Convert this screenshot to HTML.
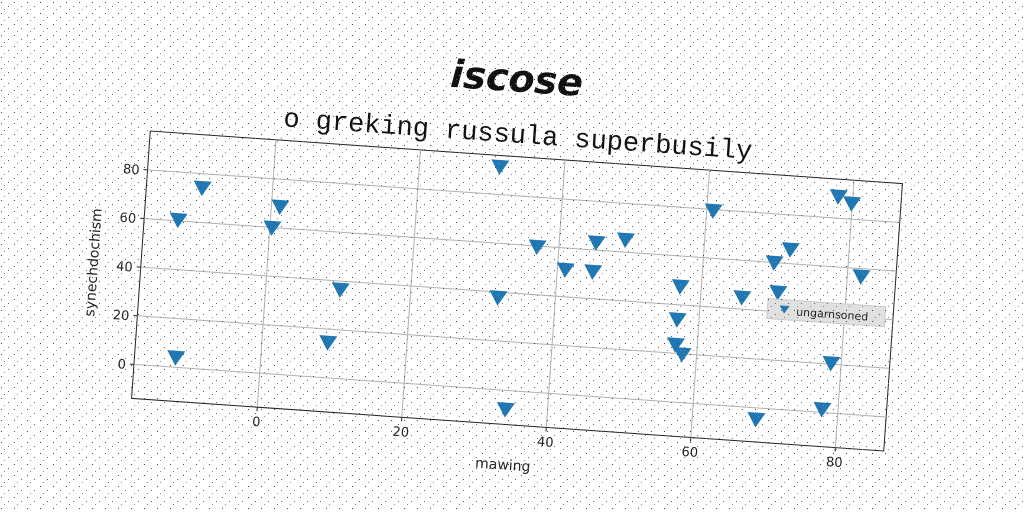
<!DOCTYPE html>
<html><head><meta charset="utf-8"><style>
html,body{margin:0;padding:0;background:#fff;width:1024px;height:512px;overflow:hidden}
text{font-family:"DejaVu Sans","Liberation Sans",sans-serif}
</style></head><body>
<svg id="chart" width="1024" height="512" viewBox="0 0 1024 512" xmlns="http://www.w3.org/2000/svg">
<defs><pattern id="noise" width="13" height="11" patternUnits="userSpaceOnUse">
<rect x="1" y="2" width="1" height="1" fill="#444"/><rect x="8" y="6" width="1" height="1" fill="#666"/><rect x="4" y="9" width="1" height="1" fill="#888"/></pattern></defs>
<g id="rot" transform="rotate(4 517 291)">
<text x="502" y="92" text-anchor="middle" font-size="38" font-weight="bold" font-style="italic" fill="#111">iscose</text>
<text x="507" y="143" text-anchor="middle" font-size="27" style="font-family:'Liberation Mono',monospace" fill="#111">o greking russula superbusily</text>
<rect x="140" y="157" width="754" height="268" fill="#fff" stroke="#222" stroke-width="1"/>
<g id="grid"></g><g id="marks"></g>
<text x="515" y="470" text-anchor="middle" font-size="14" fill="#222">mawing</text>
<text x="97" y="292" text-anchor="middle" font-size="14" fill="#222" transform="rotate(-90 97 292)">synechdochism</text>
<g>
<rect x="768" y="281" width="118" height="20" fill="#e0e0e0" stroke="#ccc"/>
<path d="M780 287 L790 287 L785 295 Z" fill="#1f77b4"/>
<text x="797" y="296" font-size="11" fill="#222">ungarnsoned</text>
</g>
</g>
<rect width="1024" height="512" fill="url(#noise)"/>
</svg>
<script>
const xs=[-12.7,-9.7,-11.7,0.3,1.2,10.3,9.1,31.1,32.1,34.2,37,41.1,44.9,45.1,49.1,57.1,57,57,58,60.9,65.7,68.8,69.8,70.6,71.9,77.8,78.6,78,79.9,81.9];
const ys=[60.3,74.1,3.9,59.8,68.6,36.4,14.4,91.3,37.7,-7.9,59.6,51,51,63,65,47.4,33.8,23.5,19.7,79.4,44.7,-4.8,59.9,47.8,65.7,1.2,20.3,88.8,86.3,56.7];
const xTicks=[0,20,40,60,80];
const yTicks=[0,20,40,60,80];
const L=140,T=157,W=754,H=268,xmin=-17.4,xmax=86.7,ymin=-14,ymax=96;
const sx=v=>L+(v-xmin)/(xmax-xmin)*W, sy=v=>T+(ymax-v)/(ymax-ymin)*H;
const NS='http://www.w3.org/2000/svg';
const g=document.getElementById('grid'), m=document.getElementById('marks');
function mk(t,a){const e=document.createElementNS(NS,t);for(const k in a)e.setAttribute(k,a[k]);return e;}
xTicks.forEach(v=>{const x=sx(v);
const l=mk('line',{x1:x,x2:x,y1:T,y2:T+H,stroke:'#b0b0b0'});

g.appendChild(l);
const k=mk('line',{x1:x,x2:x,y1:T+H,y2:T+H+4,stroke:'#222'});

g.appendChild(k);
const t=mk('text',{x:x,y:T+H+19,'text-anchor':'middle','font-size':13,fill:'#222'});t.textContent=v;

g.appendChild(t);});
yTicks.forEach(v=>{const y=sy(v);
const l=mk('line',{x1:L,x2:L+W,y1:y,y2:y,stroke:'#b0b0b0'});

g.appendChild(l);
const k=mk('line',{x1:L-4,x2:L,y1:y,y2:y,stroke:'#222'});

g.appendChild(k);
const t=mk('text',{x:L-8,y:y+5,'text-anchor':'end','font-size':13,fill:'#222'});t.textContent=v;

g.appendChild(t);});
xs.forEach((v,i)=>{const x=sx(v),y=sy(ys[i]);
const p=mk('path',{d:`M${x-9} ${y-7} L${x+9} ${y-7} L${x} ${y+8} Z`,fill:'#1f77b4'});

m.appendChild(p);});
</script>
</body></html>
